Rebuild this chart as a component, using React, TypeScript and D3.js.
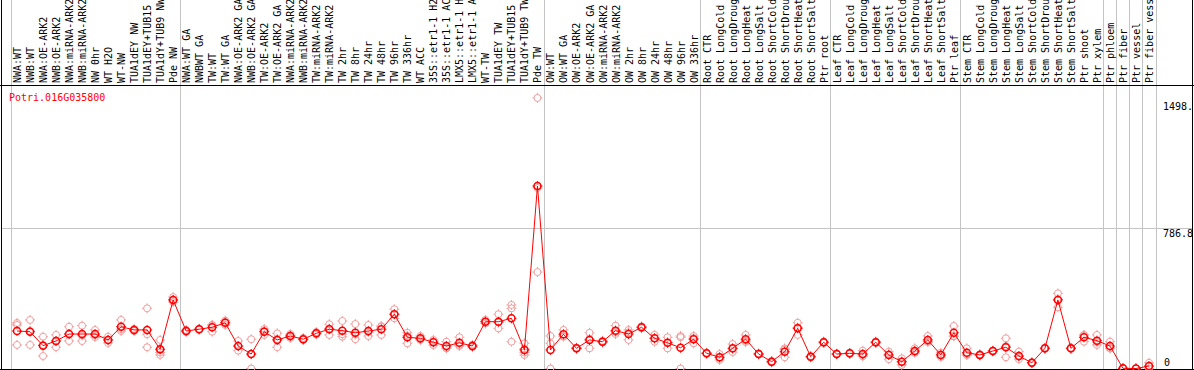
import React from 'react';
import * as d3 from 'd3';

// sample labels, left to right
const categories = [
  'NWA:WT', 'NWB:WT', 'NWA:OE-ARK2', 'NWB:OE-ARK2', 'NWA:miRNA-ARK2', 'NWB:miRNA-ARK2', 'NW 0hr', 'WT H2O', 'WT-NW',
  'TUA1dEY NW', 'TUA1dEY+TUB15', 'TUA1dY+TUB9 NW', 'Pde NW',
  'NWA:WT GA', 'NWBWT GA', 'TW:WT', 'TW:WT GA', 'NWA:OE-ARK2 GA', 'NWB:OE-ARK2 GA', 'TW:OE-ARK2', 'TW:OE-ARK2 GA',
  'NWA:miRNA-ARK2', 'NWB:miRNA-ARK2', 'TW:miRNA-ARK2', 'TW:miRNA-ARK2', 'TW 2hr', 'TW 8hr', 'TW 24hr', 'TW 48hr',
  'TW 96hr', 'TW 336hr', 'WT ACC', '35S::etr1-1 H2O', '35S::etr1-1 ACC', 'LMX5::etr1-1 H2O', 'LMX5::etr1-1 ACC',
  'WT-TW', 'TUA1dEY TW', 'TUA1dEY+TUB15', 'TUA1dY+TUB9 TW', 'Pde TW',
  'OW:WT', 'OW:WT GA', 'OW:OE-ARK2', 'OW:OE-ARK2 GA', 'OW:miRNA-ARK2', 'OW:miRNA-ARK2', 'OW 2hr', 'OW 8hr',
  'OW 24hr', 'OW 48hr', 'OW 96hr', 'OW 336hr',
  'Root CTR', 'Root LongCold', 'Root LongDrought', 'Root LongHeat', 'Root LongSalt', 'Root ShortCold',
  'Root ShortDrought', 'Root ShortHeat', 'Root ShortSalt', 'Ptr root',
  'Leaf CTR', 'Leaf LongCold', 'Leaf LongDrought', 'Leaf LongHeat', 'Leaf LongSalt', 'Leaf ShortCold',
  'Leaf ShortDrought', 'Leaf ShortHeat', 'Leaf ShortSalt', 'Ptr leaf',
  'Stem CTR', 'Stem LongCold', 'Stem LongDrought', 'Stem LongHeat', 'Stem LongSalt', 'Stem ShortCold',
  'Stem ShortDrought', 'Stem ShortHeat', 'Stem ShortSalt', 'Ptr shoot', 'Ptr xylem',
  'Ptr phloem', 'Ptr fiber', 'Ptr vessel', 'Ptr fiber vessel',
];

// number of samples per experiment block (gridline after each block)
const groupSizes = [13, 28, 12, 10, 10, 11, 1, 1, 1, 1];

// mean expression per sample
const means = [
  210, 206, 128, 154, 193, 193, 193, 160, 234, 216, 216, 108, 384,
  210, 220, 231, 256, 126, 81, 206, 160, 182, 164, 197, 220, 212, 200, 210, 220, 304, 175, 169, 147, 126, 144, 126,
  262, 262, 281, 104, 1022,
  104, 192, 113, 160, 150, 212, 193, 231, 169, 144, 116, 164,
  85, 63, 113, 164, 81, 38, 94, 225, 66, 147,
  81, 85, 81, 147, 76, 38, 98, 160, 76, 200,
  88, 76, 98, 119, 70, 32, 113, 384, 113, 175, 156,
  126, 1, 0, 14,
];

// individual replicates per sample
const replicates = [
  [255, 244, 132], [272, 132, 210], [178, 70, 132], [188, 119, 154], [234, 154, 193], [240, 154, 185],
  [216, 176, 187], [178, 160, 143], [272, 210, 220], [216, 210, 222], [337, 119, 192], [160, 104, 90, 76],
  [400, 384, 372],
  [210, 216, 204], [218, 222, 220], [244, 206, 243], [268, 244, 260], [154, 100, 125], [164, 0, 81],
  [221, 188, 210], [197, 119, 165], [182, 193, 171], [171, 160, 162], [197, 204, 190], [248, 188, 224],
  [266, 178, 192], [249, 164, 190], [244, 182, 204], [234, 188, 238], [332, 304, 281], [200, 141, 184],
  [182, 160, 165], [131, 160, 150], [150, 113, 115], [175, 126, 131], [126, 133, 120], [262, 272, 252],
  [304, 225, 258], [356, 337, 150], [141, 110, 90, 76], [1515, 540, 1011],
  [182, 141, 0], [216, 178, 182], [110, 113, 117], [200, 113, 165], [145, 150, 155], [240, 193, 204],
  [216, 160, 203], [226, 236, 231], [188, 150, 170], [175, 113, 146], [182, 175, 0], [182, 141, 170],
  [82, 85, 88], [81, 48, 60], [137, 92, 110], [188, 148, 155], [78, 81, 84], [34, 38, 42], [113, 63, 106],
  [256, 188, 230], [62, 66, 70], [143, 147, 151],
  [79, 81, 84], [82, 85, 88], [100, 76, 68], [143, 147, 151], [94, 52, 80], [57, 20, 38], [113, 87, 94],
  [182, 148, 151], [88, 64, 76], [238, 182, 180],
  [113, 76, 76], [72, 76, 80], [95, 98, 101], [169, 63, 125], [94, 52, 66], [29, 32, 35], [110, 113, 116],
  [421, 343, 388], [110, 113, 116], [188, 150, 187], [188, 132, 148],
  [150, 113, 115], [0, 1, 2], [0, 0, 0], [32, 11, 0],
];

const yTickValues = [0, 786.8, 1498];
const yTickLabels = ['0', '786.8', '1498.'];
const geneId = 'Potri.016G035800';

const W = 1194;
const H = 370;
const headerBottom = 85;
const plotBottom = 369;
const font = '"DejaVu Sans Mono", monospace';

const Marker: React.FC<{ cx: number; cy: number; color: string; sw: number }> = ({ cx, cy, color, sw }) => {
  const r = 3.5;
  return (
    <g>
      <circle cx={cx} cy={cy} r={r} fill="none" stroke={color} strokeWidth={sw} />
      <line x1={cx} x2={cx} y1={cy - r - 1.5} y2={cy - r + 0.5} stroke={color} strokeWidth={1} />
      <line x1={cx} x2={cx} y1={cy + r - 0.5} y2={cy + r + 1.5} stroke={color} strokeWidth={1} />
      <line x1={cx - r - 1.5} x2={cx - r + 0.5} y1={cy} y2={cy} stroke={color} strokeWidth={1} />
      <line x1={cx + r - 0.5} x2={cx + r + 1.5} y1={cy} y2={cy} stroke={color} strokeWidth={1} />
    </g>
  );
};

const App: React.FC = () => {
  const x = d3.scaleBand<number>()
    .domain(d3.range(categories.length))
    .range([10.5, 1155.5])
    .padding(0);

  const y = d3.scaleLinear().domain([0, 786.8]).range([368.5, 228]);

  const cx = (i: number) => (x(i) as number) + x.bandwidth() / 2;

  // block boundaries
  const bounds: number[] = [0];
  groupSizes.forEach((s) => bounds.push(bounds[bounds.length - 1] + s));
  const gridXs = bounds.map((b) => Math.round(b === categories.length ? 1155.5 : (x(b) as number)) + 0.5);

  const line = d3.line<number>()
    .x((_, i) => cx(i))
    .y((d) => y(d));

  return (
    <svg
      width={W}
      height={H}
      style={{ position: 'absolute', left: 0, top: 0, background: '#fff' }}
    >
      <rect x={0} y={0} width={W} height={H} fill="#fff" />

      {/* vertical block gridlines */}
      {gridXs.map((gx, i) => (
        <line key={`gv${i}`} x1={gx} x2={gx} y1={0} y2={plotBottom} stroke="#c4c4c4" strokeWidth={1} />
      ))}

      {/* horizontal gridline */}
      <line x1={2} x2={1192} y1={Math.round(y(786.8)) + 0.5} y2={Math.round(y(786.8)) + 0.5} stroke="#c4c4c4" strokeWidth={1} />

      {/* sample labels */}
      {categories.map((c, i) => {
        const tx = cx(i) + 4;
        const ty = 83;
        return (
          <text
            key={`c${i}`}
            x={tx}
            y={ty}
            transform={`rotate(-90, ${tx}, ${ty})`}
            fontFamily={font}
            fontSize={10}
            fill="#000"
          >
            {c}
          </text>
        );
      })}

      {/* borders */}
      <line x1={0} x2={W} y1={headerBottom + 0.5} y2={headerBottom + 0.5} stroke="#000" strokeWidth={1} />
      <line x1={1.5} x2={1.5} y1={0} y2={plotBottom + 1} stroke="#000" strokeWidth={1} />
      <line x1={1192.5} x2={1192.5} y1={0} y2={plotBottom + 1} stroke="#000" strokeWidth={1} />
      <line x1={0} x2={W} y1={plotBottom + 0.5} y2={plotBottom + 0.5} stroke="#000" strokeWidth={1} />

      {/* y labels */}
      {yTickValues.map((v, i) => (
        <text
          key={`yt${i}`}
          x={v === 0 ? 1164 : 1163}
          y={Math.min(y(v) + 9, 366)}
          fontFamily={font}
          fontSize={10}
          fill="#000"
        >
          {yTickLabels[i]}
        </text>
      ))}

      <text x={9} y={101} fontFamily={font} fontSize={10} fill="#ff0000">{geneId}</text>

      {/* replicates */}
      {replicates.map((reps, i) =>
        reps.map((v, j) => (
          <Marker key={`r${i}-${j}`} cx={cx(i)} cy={y(v)} color="#f0a0a0" sw={1} />
        ))
      )}

      {/* mean line */}
      <path d={line(means) || ''} fill="none" stroke="#ff0000" strokeWidth={1} />

      {/* means */}
      {means.map((v, i) => (
        <Marker key={`m${i}`} cx={cx(i)} cy={y(v)} color="#ff0000" sw={1.5} />
      ))}
    </svg>
  );
};

export default App;
